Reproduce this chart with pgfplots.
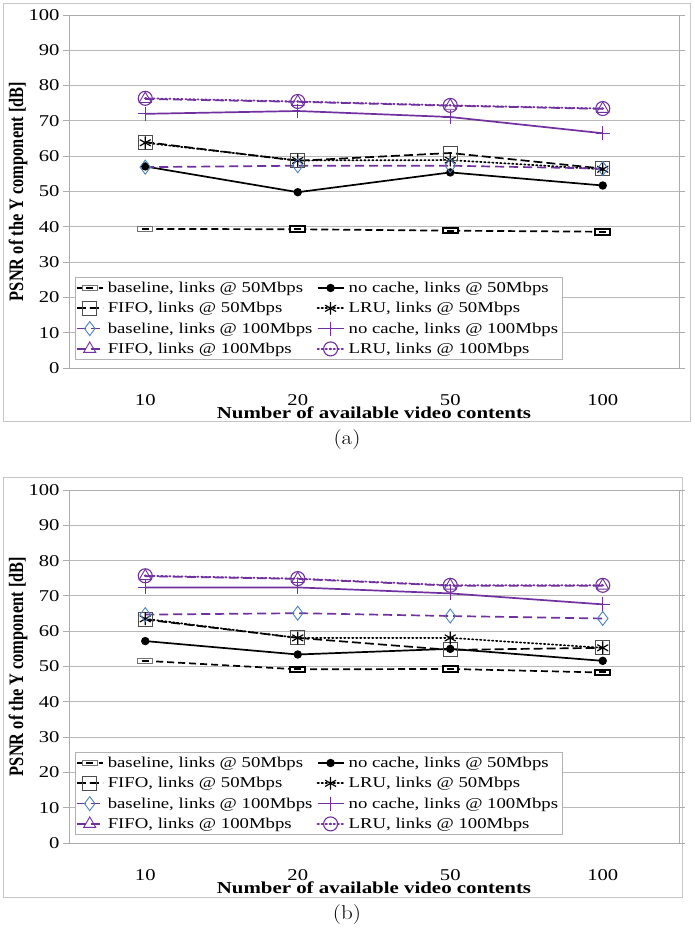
\documentclass[border=0pt]{standalone}
\usepackage{pgfplots}
\pgfplotsset{compat=1.18}
\usepackage{pgfplotstable}
\usepackage{fontspec}
\newfontfamily\tnr{Liberation Serif}
% text in the charts is set slightly widened
\newcommand\sx[1]{\scalebox{1.25}[1]{#1}}

\definecolor{vio}{RGB}{112,48,160}
\definecolor{dia}{RGB}{79,129,189}

% small white box with a dash inside
\pgfdeclareplotmark{dashbox}{%
  \pgfpathrectangle{\pgfpoint{-7.5pt}{-2.8pt}}{\pgfpoint{15pt}{5.6pt}}%
  \pgfusepathqfillstroke
  \pgfsetstrokecolor{black}\pgfsetlinewidth{2pt}%
  \pgfpathmoveto{\pgfpoint{-3.5pt}{0pt}}\pgfpathlineto{\pgfpoint{3.5pt}{0pt}}%
  \pgfusepathqstroke}
% circle with a dot in the middle
\pgfdeclareplotmark{odot}{%
  \pgfpathcircle{\pgfpointorigin}{\pgfplotmarksize}\pgfusepathqstroke
  \pgfpathcircle{\pgfpointorigin}{1.3pt}\pgfusepathqfill}

% (a)
\pgfplotstableread{
x   b50  nc50 f50  l50  b100 nc100 f100 l100
0.5 39.4 57.1 64.0 63.8 56.9 72.0  76.2 76.4
1.5 39.3 49.8 58.7 58.8 57.3 72.8  75.4 75.5
2.5 38.9 55.4 60.9 58.9 57.3 71.1  74.3 74.4
3.5 38.6 51.7 56.5 56.3 56.5 66.5  73.4 73.5
}\tabA
% (b)
\pgfplotstableread{
x   b50  nc50 f50  l50  b100 nc100 f100 l100
0.5 51.6 57.2 63.3 63.5 64.7 72.4  75.6 75.7
1.5 49.2 53.4 58.1 58.1 65.1 72.4  74.8 74.9
2.5 49.3 55.0 54.7 58.1 64.3 70.7  72.9 73.0
3.5 48.3 51.6 55.3 55.3 63.6 67.6  72.9 73.0
}\tabB

\pgfplotsset{
  psnr/.style={
    scale only axis, width=610pt, height=353pt, anchor=south west,
    xmin=0, xmax=4, ymin=0, ymax=100,
    xtick={0.5,1.5,2.5,3.5}, xticklabels={\sx{10},\sx{20},\sx{50},\sx{100}},
    ytick={0,10,...,100},
    yticklabel={\sx{\pgfmathprintnumber{\tick}}},
    ymajorgrids, grid style={gray!55, line width=0.9pt},
    axis line style={gray!65, line width=0.9pt},
    xtick style={draw=none},
    ytick style={gray!65, line width=0.9pt},
    tick align=outside, major tick length=6pt,
    /pgf/number format/assume math mode=true,
    tick label style={font=\tnr\fontsize{16.5}{19}\selectfont},
    x tick label style={anchor=center, yshift=-26pt},
    xlabel={\sx{Number of available video contents}},
    ylabel={\scalebox{1}[1.25]{PSNR of the Y component [dB]}},
    every axis x label/.style={at={(axis description cs:0.5,0)}, anchor=center, yshift=-44.5pt,
      font=\tnr\bfseries\fontsize{16.7}{20}\selectfont},
    every axis y label/.style={at={(axis description cs:-0.0836,0.5)}, anchor=center, rotate=90,
      font=\tnr\bfseries\fontsize{16.4}{20}\selectfont},
    legend columns=2,
    legend cell align=left,
    legend style={at={(axis description cs:0.0098,0.0227)}, anchor=south west,
      draw=gray!60, line width=0.8pt, fill=white,
      font=\tnr\fontsize{15}{18}\selectfont, inner sep=0.5pt,
      nodes={inner sep=4.2pt}},
    legend image code/.code={\draw[mark repeat=2,mark phase=2]
      plot coordinates {(0pt,0pt) (13pt,0pt) (26pt,0pt)};},
  },
  sb50/.style={black, line width=1.7pt, dash pattern=on 7pt off 4pt, mark=dashbox,
    mark options={solid, draw=black!55, fill=white, line width=0.8pt}},
  snc50/.style={black, line width=1.7pt, mark=*, mark size=3.3pt, mark options={solid}},
  sf50/.style={black, line width=1.7pt, dash pattern=on 9pt off 4pt, mark=square, mark size=7pt,
    mark options={solid, draw=black!70, line width=0.9pt}},
  sl50/.style={black, line width=1.7pt, dash pattern=on 1.4pt off 2.6pt, line cap=round,
    mark=asterisk, mark size=6pt, mark options={solid, line width=1.2pt}},
  sb100/.style={vio, line width=1.7pt, dash pattern=on 9pt off 5pt, mark=diamond, mark size=7pt,
    mark options={solid, draw=dia, line width=0.9pt}},
  snc100/.style={vio, line width=1.7pt, mark=+, mark size=7pt, mark options={solid, line width=0.9pt}},
  sf100/.style={vio, line width=1.7pt, dash pattern=on 9pt off 5pt, mark=triangle, mark size=7pt,
    mark options={solid, draw=vio, line width=0.9pt}},
  sl100/.style={vio, line width=1.7pt, dash pattern=on 1.4pt off 2.6pt, line cap=round,
    mark=odot, mark size=7pt, mark options={solid, draw=vio, fill=vio, line width=1.1pt}},
}

\newcommand\allseries[1]{%
  \addplot[sb50]   table[x=x,y=b50]   {#1}; \addlegendentry{\sx{baseline, links @ 50Mbps}}
  \addplot[snc50]  table[x=x,y=nc50]  {#1}; \addlegendentry{\sx{no cache, links @ 50Mbps}}
  \addplot[sf50]   table[x=x,y=f50]   {#1}; \addlegendentry{\sx{FIFO, links @ 50Mbps}}
  \addplot[sl50]   table[x=x,y=l50]   {#1}; \addlegendentry{\sx{LRU, links @ 50Mbps}}
  \addplot[sb100]  table[x=x,y=b100]  {#1}; \addlegendentry{\sx{baseline, links @ 100Mbps}}
  \addplot[snc100] table[x=x,y=nc100] {#1}; \addlegendentry{\sx{no cache, links @ 100Mbps}}
  \addplot[sf100]  table[x=x,y=f100]  {#1}; \addlegendentry{\sx{FIFO, links @ 100Mbps}}
  \addplot[sl100]  table[x=x,y=l100]  {#1}; \addlegendentry{\sx{LRU, links @ 100Mbps}}
}

\begin{document}
\begin{tikzpicture}
  \path (0pt,0pt) rectangle (694pt,940pt);
  % chart frames
  \draw[gray!45, line width=1pt] (3pt,518pt) rectangle (690pt,936pt);
  \draw[gray!45, line width=1pt] (3pt,42pt) rectangle (682pt,462pt);

  \begin{axis}[psnr, at={(69pt,572pt)}]
    \allseries{\tabA}
  \end{axis}
  \node[font=\fontsize{20}{22}\selectfont] at (347pt,500pt) {\scalebox{1.15}[1]{(a)}};

  \begin{axis}[psnr, at={(69pt,97pt)}]
    \allseries{\tabB}
  \end{axis}
  \node[font=\fontsize{20}{22}\selectfont] at (347pt,25pt) {\scalebox{1.15}[1]{(b)}};
\end{tikzpicture}
\end{document}
